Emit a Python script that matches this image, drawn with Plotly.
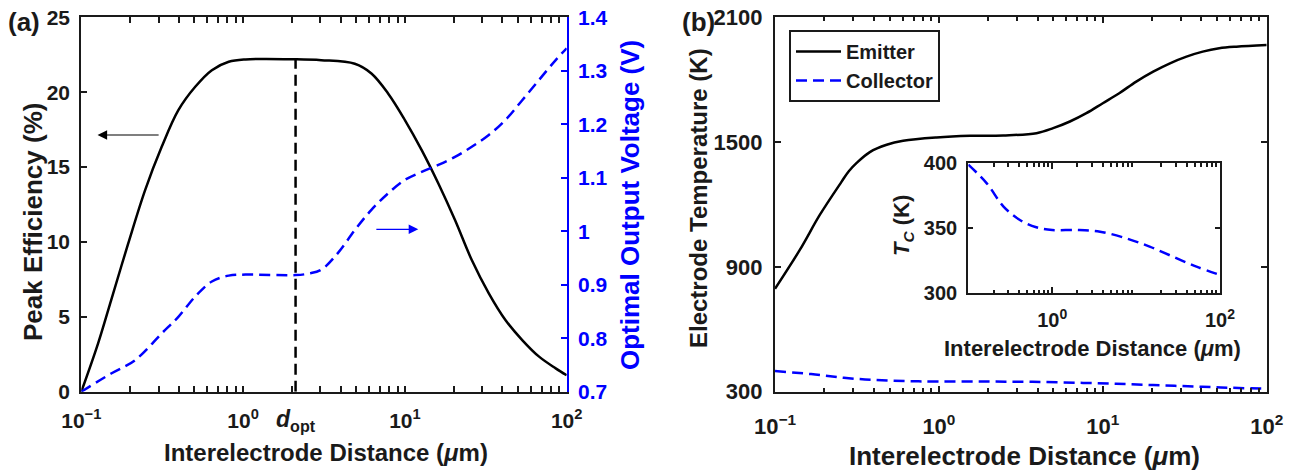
import math
import plotly.graph_objects as go

# ---------------- data (panel a) ----------------
dist_eff = [0.1, 0.127, 0.153, 0.195, 0.248, 0.314, 0.398, 0.506, 0.641, 0.815, 1.035,
            2.11, 3.04, 4.90, 6.21, 7.89, 10.0, 12.7, 16.1, 20.4, 25.9, 33.0, 41.8,
            53.1, 67.5, 85.5, 100]
peak_eff = [0.0, 3.23, 6.12, 9.9, 13.46, 16.35, 18.8, 20.36, 21.47, 22.03, 22.19,
            22.2, 22.14, 21.9, 21.25, 19.9, 18.14, 16.13, 13.9, 11.46, 8.79, 6.57, 4.79,
            3.45, 2.34, 1.56, 1.1]

dist_volt = [0.1, 0.153, 0.215, 0.314, 0.398, 0.506, 0.641, 0.815, 1.035, 2.11, 2.56,
             3.04, 3.85, 4.90, 6.21, 7.89, 10.0, 12.7, 16.1, 20.4, 25.9, 33.0, 41.8,
             53.1, 67.5, 85.5, 100]
opt_volt = [0.700, 0.734, 0.759, 0.809, 0.840, 0.878, 0.906, 0.917, 0.919, 0.918, 0.921,
            0.928, 0.959, 1.002, 1.040, 1.071, 1.096, 1.111, 1.124, 1.139, 1.158, 1.180,
            1.208, 1.245, 1.283, 1.320, 1.342]

d_opt = 2.11
eff_at_dopt = 22.2

# ---------------- data (panel b) ----------------
dist_emit = [0.1, 0.142, 0.188, 0.255, 0.282, 0.315, 0.379, 0.48, 0.605, 0.968, 1.55, 2.47,
             3.94, 4.98, 6.30, 7.94, 10.0, 12.6, 16.0, 20.3, 25.7, 32.4, 40.7, 51.3,
             65.3, 100]
t_emit = [795, 983, 1151, 1310, 1360, 1400, 1452, 1487, 1506, 1522, 1530, 1532,
          1543, 1567, 1599, 1639, 1687, 1735, 1791, 1839, 1879, 1911, 1935, 1951,
          1959, 1967]

dist_coll = [0.1, 0.166, 0.263, 0.412, 0.646, 1.0, 1.95, 3.72, 7.59, 14.5, 27.5, 52.5, 100]
t_coll = [399, 384.6, 366.7, 356.4, 350.8, 348.7, 348.7, 347.4, 342.3, 335.9, 328.2, 320.5, 314.1]

# tick labels
x_tickvals = [0.1, 1, 10, 100]
x_ticktext = ["10<sup>\u22121</sup>", "10<sup>0</sup>", "10<sup>1</sup>", "10<sup>2</sup>"]
eff_ticks = [0, 5, 10, 15, 20, 25]
volt_ticks = [0.7, 0.8, 0.9, 1.0, 1.1, 1.2, 1.3, 1.4]
volt_ticktext = ["0.7", "0.8", "0.9", "1", "1.1", "1.2", "1.3", "1.4"]
temp_ticks = [300, 900, 1500, 2100]
inset_yticks = [300, 350, 400]
inset_xticks = [1, 100]
inset_xtext = ["10<sup>0</sup>", "10<sup>2</sup>"]

minor_vals = [k * 10 ** e for e in (-1, 0, 1) for k in range(2, 10)]

W, H = 1302, 474
FONT = "Liberation Sans"
BLUE = "#0000ff"
INK = "#1a1a1a"

def px(xp):
    return xp / W

def py(yp):
    return 1 - yp / H

fig = go.Figure()

LINE_SMOOTH = 1.0
DASH = "11px,6px"
fig.add_trace(go.Scatter(x=dist_eff, y=peak_eff, mode="lines", xaxis="x", yaxis="y",
                         line=dict(color="black", width=2.5, shape="spline", smoothing=LINE_SMOOTH),
                         showlegend=False))
fig.add_trace(go.Scatter(x=dist_volt, y=opt_volt, mode="lines", xaxis="x", yaxis="y2",
                         line=dict(color=BLUE, width=2.5, dash=DASH, shape="spline", smoothing=LINE_SMOOTH),
                         showlegend=False))
fig.add_trace(go.Scatter(x=[d_opt, d_opt], y=[0, eff_at_dopt], mode="lines", xaxis="x", yaxis="y",
                         line=dict(color="black", width=2.5, dash=DASH), showlegend=False))

fig.add_trace(go.Scatter(x=dist_emit, y=t_emit, mode="lines", xaxis="x2", yaxis="y3",
                         name="Emitter",
                         line=dict(color="black", width=2.5, shape="spline", smoothing=LINE_SMOOTH)))
fig.add_trace(go.Scatter(x=dist_coll, y=t_coll, mode="lines", xaxis="x2", yaxis="y3",
                         name="Collector",
                         line=dict(color=BLUE, width=2.5, dash=DASH, shape="spline", smoothing=LINE_SMOOTH)))
fig.add_trace(go.Scatter(x=dist_coll, y=t_coll, mode="lines", xaxis="x3", yaxis="y4",
                         showlegend=False,
                         line=dict(color=BLUE, width=2.5, dash=DASH, shape="spline", smoothing=LINE_SMOOTH)))

def xlog(domain, anchor, size, tickvals, ticktext, standoff, mirror="allticks"):
    return dict(type="log", range=[-1, 2], domain=domain, anchor=anchor, automargin=False,
                tickvals=tickvals, ticktext=ticktext, ticks="inside", ticklen=6, tickwidth=1.5,
                tickcolor=INK, showline=True, linewidth=2.2, linecolor=INK, mirror=mirror,
                showgrid=False, zeroline=False, ticklabelstandoff=standoff,
                tickfont=dict(family=FONT, size=size, color=INK, weight="bold"),
                minor=dict(tickvals=minor_vals, ticks="inside", ticklen=3.5, tickwidth=1.5,
                           tickcolor=INK, showgrid=False))

dom_y = [py(391.7), py(17.3)]

fig.update_layout(
    width=W, height=H, margin=dict(l=0, r=0, t=0, b=0),
    paper_bgcolor="white", plot_bgcolor="white",
    font=dict(family=FONT, weight="bold", color=INK),
    xaxis=xlog([px(81.3), px(566.7)], "y", 21, x_tickvals, x_ticktext, 9),
    yaxis=dict(range=[0, 25], domain=dom_y, anchor="x", tickvals=eff_ticks, automargin=False,
               ticks="inside", ticklen=6, tickwidth=1.5, tickcolor=INK,
               showline=True, linewidth=2.2, linecolor=INK, mirror=False,
               showgrid=False, zeroline=False, ticklabelstandoff=5,
               tickfont=dict(family=FONT, size=21, color=INK, weight="bold")),
    yaxis2=dict(range=[0.7, 1.4], overlaying="y", side="right", anchor="x", automargin=False,
                tickvals=volt_ticks, ticktext=volt_ticktext,
                ticks="inside", ticklen=6, tickwidth=1.5, tickcolor=BLUE,
                showline=True, linewidth=2.2, linecolor=BLUE, showgrid=False, zeroline=False,
                ticklabelstandoff=5,
                tickfont=dict(family=FONT, size=21, color=BLUE, weight="bold")),
    xaxis2=xlog([px(775), px(1266.7)], "y3", 22, x_tickvals, x_ticktext, 14),
    yaxis3=dict(range=[300, 2100], domain=dom_y, anchor="x2", tickvals=temp_ticks, automargin=False,
                ticks="inside", ticklen=6, tickwidth=1.5, tickcolor=INK,
                showline=True, linewidth=2.2, linecolor=INK, mirror="allticks",
                showgrid=False, zeroline=False, ticklabelstandoff=6,
                tickfont=dict(family=FONT, size=22, color=INK, weight="bold")),
    xaxis3=xlog([px(968.3), px(1220)], "y4", 20, inset_xticks, inset_xtext, 8),
    yaxis4=dict(range=[300, 400], domain=[py(293.3), py(163.3)], anchor="x3", automargin=False,
                tickvals=inset_yticks, ticks="inside", ticklen=5, tickwidth=1.5, tickcolor=INK,
                showline=True, linewidth=2.2, linecolor=INK, mirror="allticks",
                showgrid=False, zeroline=False, ticklabelstandoff=5,
                tickfont=dict(family=FONT, size=20, color=INK, weight="bold")),
    legend=dict(x=px(789), y=py(30), xanchor="left", yanchor="top",
                bgcolor="white", bordercolor=INK, borderwidth=2,
                font=dict(family=FONT, size=20, color=INK, weight="bold"),
                tracegroupgap=0, itemwidth=45),
)

def txt(s, x, y, size, color=INK, angle=0, xanchor="center", yanchor="middle", xref="paper"):
    fig.add_annotation(text=s, x=x, y=y, xref=xref, yref="paper", showarrow=False,
                       textangle=angle, xanchor=xanchor, yanchor=yanchor,
                       font=dict(family=FONT, size=size, color=color, weight="bold"))

# axis titles
txt("Peak Efficiency (%)", px(33), py(222), 26, angle=-90)
txt("Optimal Output Voltage (V)", px(630), py(205), 26, color=BLUE, angle=-90)
txt("Interelectrode Distance (<i>\u03bc</i>m)", px(326), py(452), 24)
txt("Electrode Temperature (K)", px(698), py(198), 24, angle=-90)
txt("Interelectrode Distance (<i>\u03bc</i>m)", px(1024), py(456), 26)
txt("<i>T</i><sub><i>C</i></sub> (K)", px(903), py(226), 22, angle=-90)
txt("Interelectrode Distance (<i>\u03bc</i>m)", px(1092), py(348), 22)
# panel labels
txt("(a)", px(6), py(22), 26, xanchor="left")
txt("(b)", px(680), py(22), 26, xanchor="left")
# d_opt
txt("<i>d</i><sub>opt</sub>", math.log10(d_opt), py(420), 23, xref="x")

# arrows
fig.add_annotation(x=math.log10(0.126), y=17.14, ax=math.log10(0.307), ay=17.14,
                   xref="x", yref="y", axref="x", ayref="y", text="", showarrow=True,
                   arrowhead=2, arrowsize=1.6, arrowwidth=1.2, arrowcolor="black")
fig.add_annotation(x=math.log10(12.1), y=1.0036, ax=math.log10(6.52), ay=1.0036,
                   xref="x", yref="y2", axref="x", ayref="y2", text="", showarrow=True,
                   arrowhead=2, arrowsize=1.6, arrowwidth=1.2, arrowcolor=BLUE)

fig.write_html("out.html")
